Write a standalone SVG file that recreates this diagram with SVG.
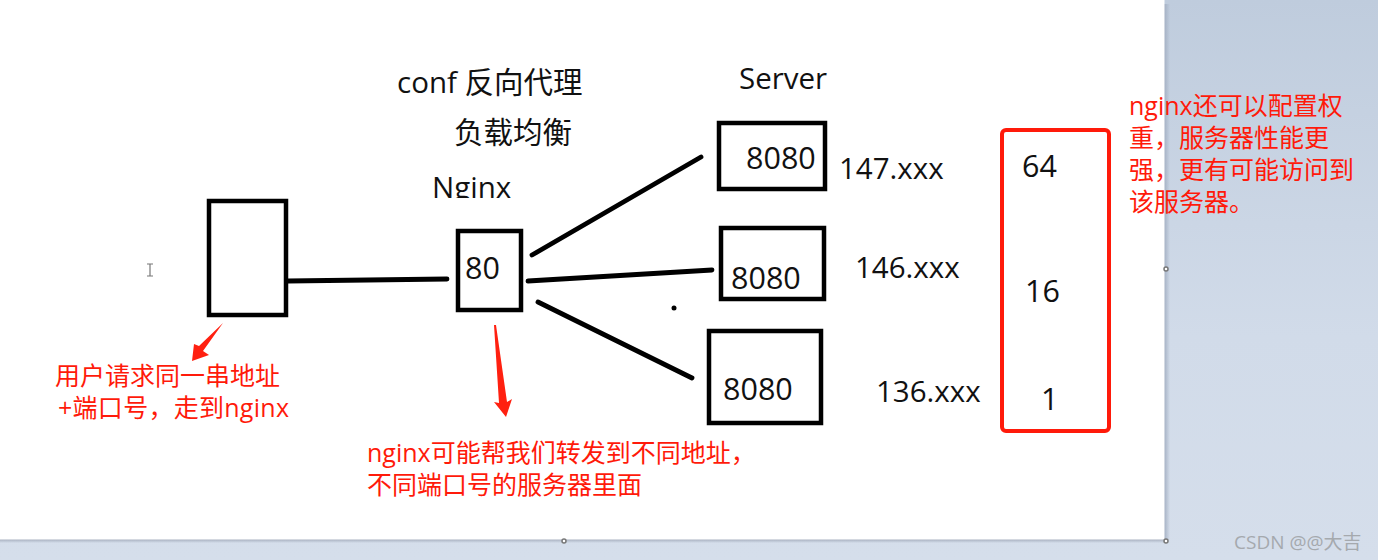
<svg xmlns="http://www.w3.org/2000/svg" width="1378" height="560" viewBox="0 0 1378 560">
<defs>
<linearGradient id="bg" x1="0" y1="0" x2="0" y2="1"><stop offset="0" stop-color="#bfccdd"/><stop offset="0.6" stop-color="#d1dbe9"/><stop offset="1" stop-color="#d5deeb"/></linearGradient>
<linearGradient id="sv" x1="0" y1="0" x2="1" y2="0"><stop offset="0" stop-color="#a3afc2"/><stop offset="1" stop-color="#a3afc2" stop-opacity="0"/></linearGradient>
<linearGradient id="sh" x1="0" y1="0" x2="0" y2="1"><stop offset="0" stop-color="#a3abbb"/><stop offset="1" stop-color="#a3abbb" stop-opacity="0"/></linearGradient>
<clipPath id="nclip"><rect x="425" y="165" width="100" height="33"/></clipPath>
</defs>
<style>
.b{fill:none;stroke:#000;stroke-width:4.5}
.l{fill:none;stroke:#000;stroke-width:4.8;stroke-linecap:round}
.t{font-family:"Open Sans","Noto Sans CJK SC",sans-serif;font-size:29.5px;fill:#111}
.n{font-family:"Open Sans","Noto Sans CJK SC",sans-serif;font-size:30.5px;fill:#111}
.r{font-family:"Open Sans","Noto Sans CJK SC",sans-serif;font-size:25px;fill:#ff1a0a}
.a{fill:#ff2010;stroke:none}
.h{fill:#fff;stroke:#777;stroke-width:1.5}
</style>
<rect width="1378" height="560" fill="url(#bg)"/>
<rect x="1164" y="4" width="6" height="536" fill="url(#sv)"/>
<rect x="0" y="539" width="1167" height="4" fill="url(#sh)"/>
<rect x="0" y="0" width="1164.500" height="539.500" fill="#fff"/>
<circle class="h" cx="1166" cy="269" r="2"/><circle class="h" cx="1166" cy="541" r="2"/><circle class="h" cx="564" cy="541" r="2"/>
<g id="cursor" fill="none" stroke="#777" stroke-width="1.2"><path d="M147 264h6M150 264v12M147 276h6"/></g>
<g id="connectors">
<path class="l" d="M288 281L447 279"/>
<path class="l" d="M532 255L701 157"/>
<path class="l" d="M528 281L712 270"/>
<path class="l" d="M538 302L692 378"/>
<circle cx="674" cy="308" r="2.500" fill="#000"/>
<path class="a" d="M223 323L203 351L209 355L192 361L194 344L199 346Z"/>
<path class="a" d="M494 325L496 325L507 402L512 399L506 417L494 402L499 403Z"/>
</g>
<g id="client"><rect class="b" x="209" y="201" width="77" height="114"/></g>
<g id="nginx"><rect class="b" x="458" y="231" width="63" height="79"/><text class="n" x="465" y="279">80</text><text class="t" x="432" y="198" clip-path="url(#nclip)">Nginx</text></g>
<g id="server1"><rect class="b" x="719" y="123" width="106" height="66"/><text class="n" x="746" y="169">8080</text></g>
<g id="server2"><rect class="b" x="721" y="228" width="103" height="71"/><text class="n" x="731" y="289">8080</text></g>
<g id="server3"><rect class="b" x="709" y="331" width="112" height="92"/><text class="n" x="723" y="400">8080</text></g>
<g id="labels">
<text class="t" x="397" y="93">conf 反向代理</text>
<text class="t" x="454" y="143">负载均衡</text>
<text class="t" x="739" y="89">Server</text>
<text class="t" x="839" y="179">147.xxx</text>
<text class="t" x="855" y="278">146.xxx</text>
<text class="t" x="876" y="402">136.xxx</text>
</g>
<g id="weights"><rect x="1002" y="130" width="107" height="301" rx="4" fill="none" stroke="#ff1a0a" stroke-width="4"/>
<text class="n" x="1022" y="177">64</text><text class="n" x="1025" y="302">16</text><text class="n" x="1041" y="410">1</text></g>
<g id="notes">
<text class="r" x="55" y="385">用户请求同一串地址</text>
<text class="r" x="58" y="417" textLength="231">+端口号，走到nginx</text>
<text class="r" x="367" y="462">nginx可能帮我们转发到不同地址，</text>
<text class="r" x="367" y="494">不同端口号的服务器里面</text>
<text class="r" x="1129" y="115">nginx还可以配置权</text>
<text class="r" x="1129" y="147">重，服务器性能更</text>
<text class="r" x="1129" y="179">强，更有可能访问到</text>
<text class="r" x="1129" y="211">该服务器。</text>
</g>
<text x="1234" y="549" font-family="'Open Sans','Noto Sans CJK SC',sans-serif" font-size="19" fill="#a5a9ae">CSDN @@大吉</text>
</svg>
